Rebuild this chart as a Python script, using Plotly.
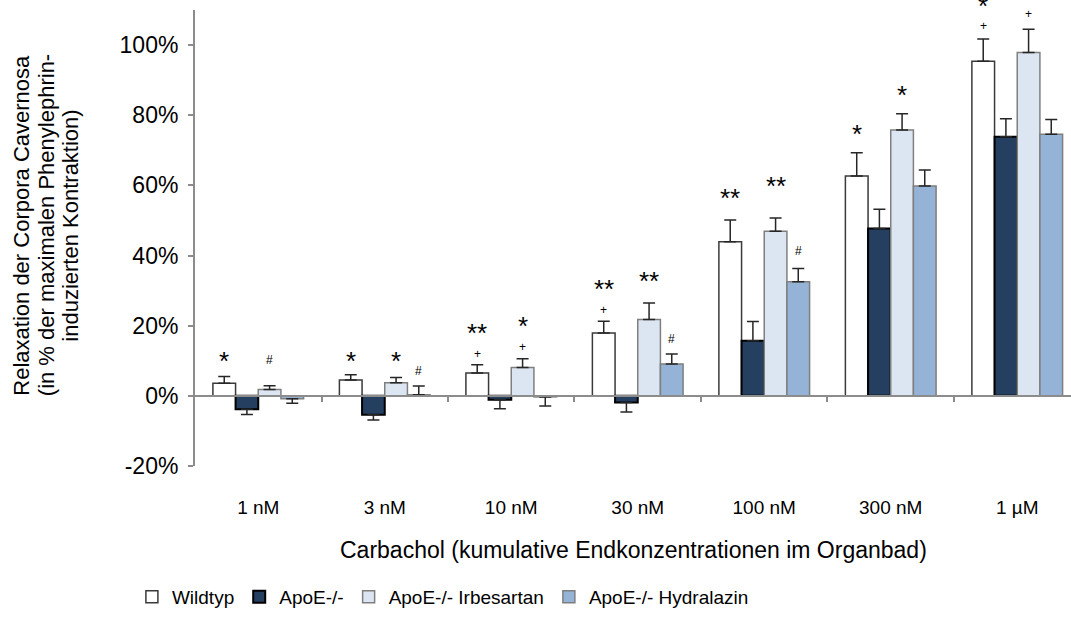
import plotly.graph_objects as go

categories = ["1 nM", "3 nM", "10 nM", "30 nM", "100 nM", "300 nM", "1 µM"]
series_names = ["Wildtyp", "ApoE-/-", "ApoE-/- Irbesartan", "ApoE-/- Hydralazin"]

wildtyp = [3.6, 4.5, 6.5, 17.9, 43.9, 62.7, 95.4]
apoe = [-3.8, -5.4, -1.1, -1.9, 15.7, 47.7, 73.9]
irbesartan = [1.8, 3.7, 8.1, 21.8, 46.9, 75.8, 97.9]
hydralazin = [-0.8, 0.3, -0.3, 9.1, 32.5, 59.8, 74.6]

wildtyp_err = [1.9, 1.5, 2.4, 3.4, 6.2, 6.6, 6.3]
apoe_err = [1.5, 1.5, 2.6, 2.7, 5.5, 5.5, 5.1]
irbesartan_err = [1.1, 1.5, 2.5, 4.7, 3.8, 4.6, 6.6]
hydralazin_err = [1.3, 2.5, 2.6, 2.8, 3.8, 4.6, 4.2]

y_tickvals = [-20, 0, 20, 40, 60, 80, 100]
y_ticktext = ["-20%", "0%", "20%", "40%", "60%", "80%", "100%"]

y_title_lines = [
    "Relaxation der Corpora Cavernosa",
    "(in % der maximalen Phenylephrin-",
    "induzierten Kontraktion)",
]
x_title = "Carbachol (kumulative Endkonzentrationen im Organbad)"

# significance labels: (category index, series index, text, y-position in %)
sig_labels = [
    (0, 0, "*", 10.9), (0, 2, "#", 10.3),
    (1, 0, "*", 10.9), (1, 2, "*", 10.9), (1, 3, "#", 7.1),
    (2, 0, "**", 18.9), (2, 0, "+", 11.9), (2, 2, "*", 20.9), (2, 2, "+", 14.0),
    (3, 0, "**", 31.4), (3, 0, "+", 24.5), (3, 2, "**", 33.6), (3, 3, "#", 16.2),
    (4, 0, "**", 57.2), (4, 2, "**", 60.7), (4, 3, "#", 41.2),
    (5, 0, "*", 75.4), (5, 2, "*", 86.6),
    (6, 0, "*", 112.0), (6, 0, "+", 105.4), (6, 2, "+", 108.9),
]

values = [wildtyp, apoe, irbesartan, hydralazin]
errors = [wildtyp_err, apoe_err, irbesartan_err, hydralazin_err]
fills = ["#FFFFFF", "#243F60", "#DCE6F2", "#95B3D7"]
outlines = ["#3a3a3a", "#000000", "#7F7F7F", "#7F7F7F"]
outline_w = [1.5, 2, 1.5, 1.5]

FONT = "Liberation Sans, Arial, sans-serif"
BARGAP = 0.283
YMAX = 110
PX_PER_UNIT = 3.5
xpos = list(range(len(categories)))

fig = go.Figure()
for name, vals, errs, fc, lc, lw in zip(series_names, values, errors, fills, outlines, outline_w):
    plus = [e if v >= 0 else 0 for v, e in zip(vals, errs)]
    minus = [e if v < 0 else 0 for v, e in zip(vals, errs)]
    fig.add_trace(go.Bar(
        x=xpos, y=vals, name=name,
        marker=dict(color=fc, line=dict(color=lc, width=lw)),
        error_y=dict(type="data", symmetric=False, array=plus, arrayminus=minus,
                     color="#262626", thickness=1.5, width=6),
    ))

# helper trace for the zero-line axis
fig.add_trace(go.Scatter(x=[None], y=[None], xaxis="x2", showlegend=False, hoverinfo="skip"))

w = (1 - BARGAP) / 4
annotations = []
for ci, si, txt, yv in sig_labels:
    big = txt in ("*", "**")
    shift = -3 if big else 0
    ya = yv
    if yv > YMAX:
        shift += (yv - YMAX) * PX_PER_UNIT
        ya = YMAX
    annotations.append(dict(
        x=ci + (si - 1.5) * w, y=ya, xref="x", yref="y", text=txt, showarrow=False,
        font=dict(family=FONT, size=26 if big else 12, color="#000000"),
        xanchor="center", yanchor="middle", yshift=shift,
    ))

# y-axis title, one annotation per line
for k, line in enumerate(y_title_lines):
    annotations.append(dict(
        x=0, y=0.527, xref="paper", yref="paper", xanchor="center", yanchor="middle",
        xshift=-173 + 24.5 * k, textangle=-90, showarrow=False,
        text=line, font=dict(family=FONT, size=22, color="#000000"),
    ))
annotations.append(dict(
    x=0.5, y=-0.184, xref="paper", yref="paper", xanchor="center", yanchor="middle",
    showarrow=False, text=x_title,
    font=dict(family=FONT, size=23, color="#000000"),
))

xrange = [-0.5, 6.425]
fig.update_layout(
    width=1071, height=632,
    margin=dict(l=195, r=0, t=10, b=166),
    paper_bgcolor="white", plot_bgcolor="white",
    barmode="group", bargap=BARGAP, bargroupgap=0,
    font=dict(family=FONT, size=18, color="#000000"),
    xaxis=dict(range=xrange, tickvals=xpos, ticktext=categories, showline=False,
               showgrid=False, zeroline=False, ticks="outside", ticklen=24,
               tickcolor="rgba(0,0,0,0)", tickfont=dict(size=19)),
    xaxis2=dict(range=xrange, overlaying="x", anchor="free", position=20 / 130,
                showline=True, linecolor="#8C8C8C", linewidth=2,
                tickvals=[0.5, 1.5, 2.5, 3.5, 4.5, 5.5], ticks="outside", ticklen=5,
                tickcolor="#8C8C8C", tickwidth=1.5, showticklabels=False,
                showgrid=False, zeroline=False),
    yaxis=dict(range=[-20, YMAX], tickvals=y_tickvals, ticktext=y_ticktext,
               showline=True, linecolor="#8C8C8C", linewidth=2, ticks="outside",
               ticklen=5, tickcolor="#8C8C8C", tickwidth=1.5, showgrid=False,
               zeroline=False, tickfont=dict(size=23), ticklabelstandoff=5),
    legend=dict(orientation="h", x=0.283, xanchor="center", y=-0.287, yanchor="middle",
                font=dict(size=19), bgcolor="rgba(0,0,0,0)"),
    annotations=annotations,
    showlegend=True,
)

fig.write_html("out.html")
